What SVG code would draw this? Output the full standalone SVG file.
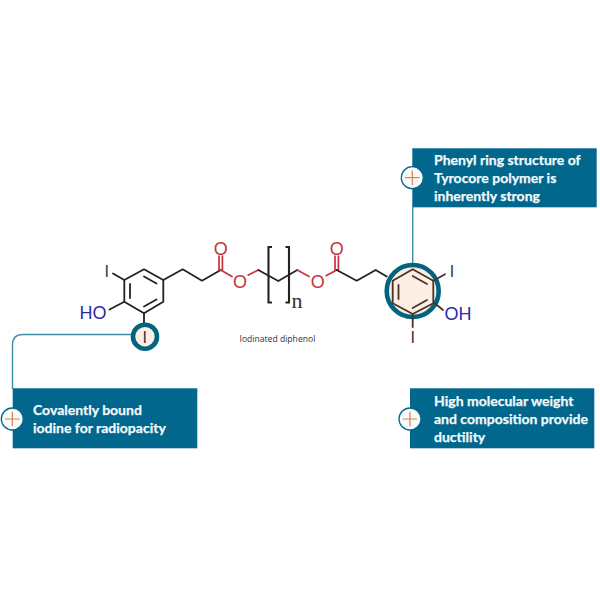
<svg xmlns="http://www.w3.org/2000/svg" width="600" height="600" viewBox="0 0 600 600">
<style>
.box{fill:#02678c}
.lbl{font-family:"Lato","Open Sans",sans-serif;font-weight:700;font-size:14px;fill:#f2fafc;stroke:#f2fafc;stroke-width:.25}
.bond{fill:none;stroke:#222;stroke-width:1.8;stroke-linecap:round;stroke-linejoin:round}
.red{fill:none;stroke:#c8323c;stroke-width:1.7;stroke-linecap:round}
.brown{fill:none;stroke:#4a3428;stroke-width:1.8;stroke-linecap:round;stroke-linejoin:round}
.conn{fill:none;stroke:#3f8ea6;stroke-width:1.4}
.ring{fill:#fdeee3;stroke:#03647f;stroke-width:4.6}
.plusc{fill:#f7fbfc;stroke:#02678c;stroke-width:1.3}
.plus{stroke:#d9814f;stroke-width:1.2;fill:none}
.at{font-family:"Liberation Sans",Arial,sans-serif;font-size:18px}
.O{fill:#c8323c;text-anchor:middle}
.HO{fill:#2a2aa8}
.I{fill:#333;text-anchor:middle;font-size:16px}
.cap{font-family:"Open Sans",sans-serif;font-size:8.6px;fill:#333}
</style>
<g id="connectors">
<path class="conn" d="M412.7 207V264"/>
<path class="conn" d="M12.5 389V345Q12.5 334.5 23 334.5H131"/>
</g>
<g id="molecule">
<path class="bond" d="M163.3 280L144 269.3L124.3 280V301.7L144 313.3L163.3 301.7V280M156.5 283.5L144 276.5M130 284V298M144 306.5L156.5 299.5"/>
<path class="bond" d="M124.3 280L113 273.5M124.3 301.7L109.5 309.5M144 313.3V323"/>
<path class="bond" d="M163.3 280L182.7 269.3L202 280.7L220.7 270"/>
<path class="red" d="M220.7 270L232 276.5M248.3 275L258.3 270M219 270V256M222.4 270V256"/>
<path class="bond" d="M258.3 270L278.3 281L297.3 270"/>
<path class="bond" style="stroke-width:2.1;stroke-linecap:butt;stroke-linejoin:miter" d="M272 247H268.5V302.5H272M285.5 247H289V302.5H285.5"/>
<path class="red" d="M297.3 270L309 276.5M326 275.7L336.7 270M335 270V256M338.4 270V256"/>
<path class="bond" d="M336.7 270L356.7 280.7L375.7 270L386.7 276.5"/>
<text class="at O" x="220.7" y="254.5">O</text>
<text class="at O" x="240" y="287.5">O</text>
<text class="at O" x="317.7" y="287.5">O</text>
<text class="at O" x="336.7" y="254.5">O</text>
<text class="at HO" x="79.5" y="319">HO</text>
<text class="at I" x="106.7" y="276.5">I</text>
<text x="291.5" y="308" style="font-family:'Liberation Serif',serif;font-size:22px;fill:#333">n</text>
<circle class="ring" cx="145" cy="336.7" r="12"/>
<text class="at I" x="144.8" y="343">I</text>
<circle class="ring" cx="412.7" cy="291" r="26"/>
<path class="brown" d="M412.7 269.3L433.3 280.7V303.3L412.7 314L392.7 303.3V280.7ZM412.7 276L427 284M427 300L412.7 308M398.5 285V299"/>
<path class="brown" d="M433.3 280.7L445 274.3M435 303.5L443 310M412.7 314V327"/>
<text class="at I" x="452" y="276.5">I</text>
<text class="at I" x="412.7" y="343">I</text>
<text class="at HO" x="444.5" y="320">OH</text>
<text class="cap" x="239.5" y="341.5">Iodinated diphenol</text>
</g>
<g id="node-phenyl">
<rect class="box" x="412.3" y="148.3" width="184.4" height="59"/>
<circle class="plusc" cx="412.3" cy="177.7" r="11"/>
<path class="plus" d="M405 177.7H419.6M412.3 170.4V185"/>
<text class="lbl" x="434" y="165">Phenyl ring structure of</text>
<text class="lbl" x="434" y="183">Tyrocore polymer is</text>
<text class="lbl" x="434" y="201">inherently strong</text>
</g>
<g id="node-iodine">
<rect class="box" x="12.7" y="388.3" width="184.6" height="60"/>
<circle class="plusc" cx="12.3" cy="419" r="11"/>
<path class="plus" d="M5 419H19.6M12.3 411.7V426.3"/>
<text class="lbl" x="33" y="414.5">Covalently bound</text>
<text class="lbl" x="33" y="432.5">iodine for radiopacity</text>
</g>
<g id="node-ductility">
<rect class="box" x="410" y="388.3" width="184.3" height="60"/>
<circle class="plusc" cx="410" cy="419" r="11"/>
<path class="plus" d="M402.7 419H417.3M410 411.7V426.3"/>
<text class="lbl" x="434" y="406">High molecular weight</text>
<text class="lbl" x="434" y="424">and composition provide</text>
<text class="lbl" x="434" y="442">ductility</text>
</g>
</svg>
